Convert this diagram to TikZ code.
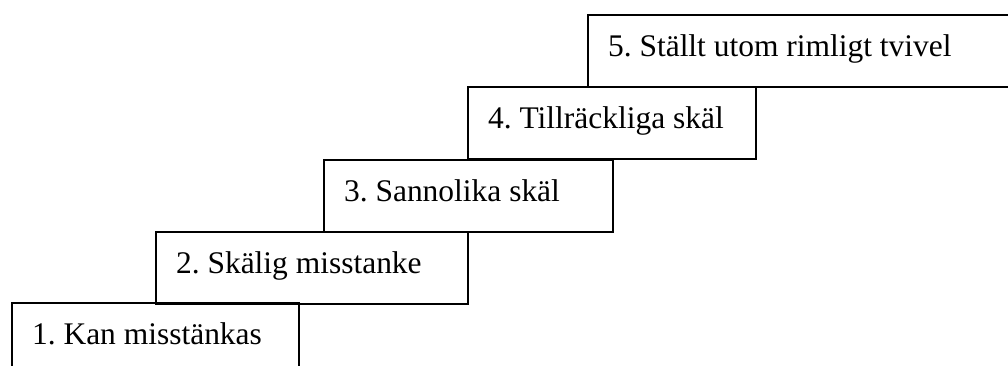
\documentclass[tikz,border=0pt]{standalone}
\usepackage{fontspec}
\setmainfont{Liberation Serif}
\frenchspacing
\usepackage{tikz}
\tikzset{steg/.style={
        draw,
        line width=1.6pt,
        anchor=north west,
        inner xsep=15pt,
        inner ysep=0pt,
        align=flush left,
        text width=#1,
        text height=15.75pt,
        text depth=7.5pt,
        minimum height=54pt,
        font=\fontsize{23.6}{28}\selectfont
}}

\begin{document}
\begin{tikzpicture}[x=0.75pt,y=0.75pt]
                    \useasboundingbox (0,0) rectangle (1008,365);
                    \clip (0,0) rectangle (1008,365);

                    \node[steg=185.25pt] (steg1) at (11,63) {1. Kan misstänkas};
                    \node[steg=204pt] (steg2) at (155,134) {2. Skälig misstanke};
                    \node[steg=186.75pt] (steg3) at (323,206) {3. Sannolika skäl};
                    \node[steg=186pt] (steg4) at (467,279) {4. Tillräckliga skäl};
                    \node[steg=288.75pt] (steg5) at (587,351) {5. Ställt utom rimligt tvivel};

\end{tikzpicture}
\end{document}
